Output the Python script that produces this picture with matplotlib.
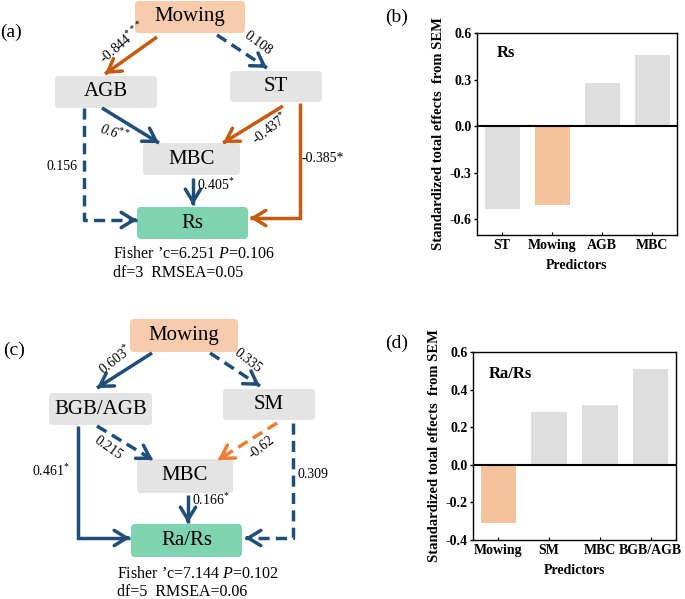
import matplotlib
matplotlib.use('Agg')
import matplotlib.pyplot as plt
from matplotlib.patches import FancyBboxPatch, FancyArrowPatch

plt.rcParams['font.family'] = 'Liberation Serif'
plt.rcParams['mathtext.fontset'] = 'custom'
plt.rcParams['mathtext.rm'] = 'Liberation Serif'
plt.rcParams['mathtext.it'] = 'Liberation Serif:italic'
plt.rcParams['mathtext.bf'] = 'Liberation Serif:bold'
plt.rcParams['axes.unicode_minus'] = False

# bar chart data
b_predictors = ['ST', 'Mowing', 'AGB', 'MBC']
b_effects = [-0.53, -0.51, 0.28, 0.46]
d_predictors = ['Mowing', 'SM', 'MBC', 'BGB/AGB']
d_effects = [-0.31, 0.28, 0.32, 0.51]

# SEM path coefficients
a_coefs = ['-0.844$^{***}$', '0.108', '0.6$^{**}$', '-0.437$^{*}$', '0.405$^{*}$', '0.156', '-0.385*']
a_fit = ["Fisher \u2019c=6.251 $P$=0.106", "df=3  RMSEA=0.05"]
c_coefs = ['0.603$^{*}$', '0.335', '0.215', '-0.62', '0.166$^{*}$', '0.461$^{*}$', '0.309']
c_fit = ["Fisher \u2019c=7.144 $P$=0.102", "df=5  RMSEA=0.06"]

BLUE = '#1f4e79'
ORANGE = '#c55a11'
LORANGE = '#ed7d31'
GREYBOX = '#e4e4e4'
PEACH = '#f8cbad'
GREEN = '#7ed4b1'
BARGREY = '#dedede'
BARPEACH = '#f5c39b'

fig = plt.figure(figsize=(6.85, 5.99), dpi=100)
ax = fig.add_axes([0, 0, 1, 1])
ax.set_xlim(0, 685)
ax.set_ylim(599, 0)
ax.axis('off')


def box(x0, y0, x1, y1, label, fc=GREYBOX):
    ax.add_patch(FancyBboxPatch((x0, y0), x1 - x0, y1 - y0,
                                boxstyle='round,pad=0,rounding_size=4', fc=fc, ec='none'))
    ax.text((x0 + x1) / 2, (y0 + y1) / 2, label, ha='center', va='center', fontsize=15)


def arrow(pts, color, dashed=False):
    xs = [p[0] for p in pts]
    ys = [p[1] for p in pts]
    ls = (0, (3.2, 1.8)) if dashed else '-'
    ax.plot(xs, ys, color=color, lw=2.5, ls=ls, solid_capstyle='butt',
            dash_capstyle='butt', solid_joinstyle='miter')
    x1, y1 = pts[-1]
    x0, y0 = pts[-2]
    d = ((x1 - x0) ** 2 + (y1 - y0) ** 2) ** 0.5
    start = (x1 - (x1 - x0) / d * 3, y1 - (y1 - y0) / d * 3)
    ax.add_patch(FancyArrowPatch(start, (x1, y1), color=color, lw=2.5,
                                 arrowstyle='->,head_length=0.9,head_width=0.55',
                                 mutation_scale=10, shrinkA=0, shrinkB=0))


def label(x, y, s, rot=0, **kw):
    ax.text(x, y, s, rotation=rot, ha='center', va='center', fontsize=10,
            rotation_mode='anchor', **kw)


# ---- panel (a)
ax.text(11, 32, '(a)', fontsize=14, ha='center', va='center')
box(135, 1, 245, 33, 'Mowing', PEACH)
box(55, 76, 157, 108, 'AGB')
box(230, 71, 322, 102, 'ST')
box(143, 143, 240, 175, 'MBC')
box(137, 207, 248, 239, 'Rs', GREEN)
arrow([(157, 37), (105, 74)], ORANGE)
arrow([(217, 35), (267, 68)], BLUE, dashed=True)
arrow([(102, 108), (159, 143)], BLUE)
arrow([(283, 106), (223, 143)], ORANGE)
arrow([(193, 178), (193, 205)], BLUE)
arrow([(84, 108), (84, 220), (137, 220)], BLUE, dashed=True)
arrow([(300, 103), (300, 218), (250, 218)], ORANGE)
label(123, 43, a_coefs[0], 40)
label(258, 43, a_coefs[1], -36)
label(114, 133, a_coefs[2], -18, style='italic')
label(270, 128, a_coefs[3], 38)
label(216, 185, a_coefs[4])
label(62, 167, a_coefs[5])
ax.text(302, 159, a_coefs[6], fontsize=10, ha='left', va='center')
ax.text(113, 258, a_fit[0], fontsize=11.5, va='baseline')
ax.text(113, 277, a_fit[1], fontsize=11.5, va='baseline')

# ---- panel (c)
ax.text(14, 350, '(c)', fontsize=14, ha='center', va='center')
box(130, 319, 238, 352, 'Mowing', PEACH)
box(49, 393, 152, 425, 'BGB/AGB')
box(223, 389, 315, 420, 'SM')
box(137, 459, 233, 493, 'MBC')
box(131, 524, 242, 557, 'Ra/Rs', GREEN)
arrow([(152, 353), (97, 388)], BLUE)
arrow([(210, 353), (260, 386)], BLUE, dashed=True)
arrow([(97, 426), (153, 460)], BLUE, dashed=True)
arrow([(277, 423), (218, 460)], LORANGE, dashed=True)
arrow([(188, 495), (188, 523)], BLUE)
arrow([(78, 426), (78, 538), (130, 538)], BLUE)
arrow([(293, 423), (293, 538), (245, 538)], BLUE, dashed=True)
label(116, 360, c_coefs[0], 38)
label(248, 361, c_coefs[1], -38)
label(108, 448, c_coefs[2], -35)
label(262, 447, c_coefs[3], 38)
label(211, 500, c_coefs[4])
label(51, 471, c_coefs[5])
label(313, 474, c_coefs[6])
ax.text(117, 578, c_fit[0], fontsize=11.5, va='baseline')
ax.text(117, 596, c_fit[1], fontsize=11.5, va='baseline')

# ---- bar panels
ax.text(397, 17, '(b)', fontsize=14, ha='center', va='center')
ax.text(397, 343, '(d)', fontsize=14, ha='center', va='center')


def bars(rect, names, vals, ylim, yticks, title, tx, ty):
    bx = fig.add_axes(rect)
    cols = [BARPEACH if n == 'Mowing' else BARGREY for n in names]
    bx.bar(range(len(vals)), vals, width=0.7, color=cols)
    bx.axhline(0, color='black', lw=1.5)
    bx.set_xlim(-0.5, 3.5)
    bx.set_ylim(*ylim)
    bx.set_yticks(yticks)
    bx.set_yticklabels(['%.1f' % t for t in yticks], fontweight='bold', fontsize=10)
    bx.set_xticks(range(len(names)))
    bx.set_xticklabels(names, fontweight='bold', fontsize=10)
    bx.tick_params(axis='x', direction='in', length=2, width=0.8, pad=3)
    bx.tick_params(axis='y', length=2, width=1, pad=2)
    for s in bx.spines.values():
        s.set_linewidth(1.0)
    bx.set_xlabel('Predictors', fontweight='bold', fontsize=10, labelpad=5)
    bx.set_ylabel('Standardized total effects  from SEM', fontweight='bold', fontsize=10.5, labelpad=3)
    bx.text(tx, ty, title, transform=bx.transAxes, fontweight='bold', fontsize=12,
            ha='left', va='center')
    return bx


bars([477 / 685, 1 - 235 / 599, 200 / 685, 202 / 599], b_predictors, b_effects,
     (-0.7, 0.6), [-0.6, -0.3, 0.0, 0.3, 0.6], 'Rs', 0.1, 0.90)
bars([473 / 685, 1 - 540 / 599, 203 / 685, 188 / 599], d_predictors, d_effects,
     (-0.4, 0.6), [-0.4, -0.2, 0.0, 0.2, 0.4, 0.6], 'Ra/Rs', 0.08, 0.883)

fig.savefig('out.png', dpi=100)
